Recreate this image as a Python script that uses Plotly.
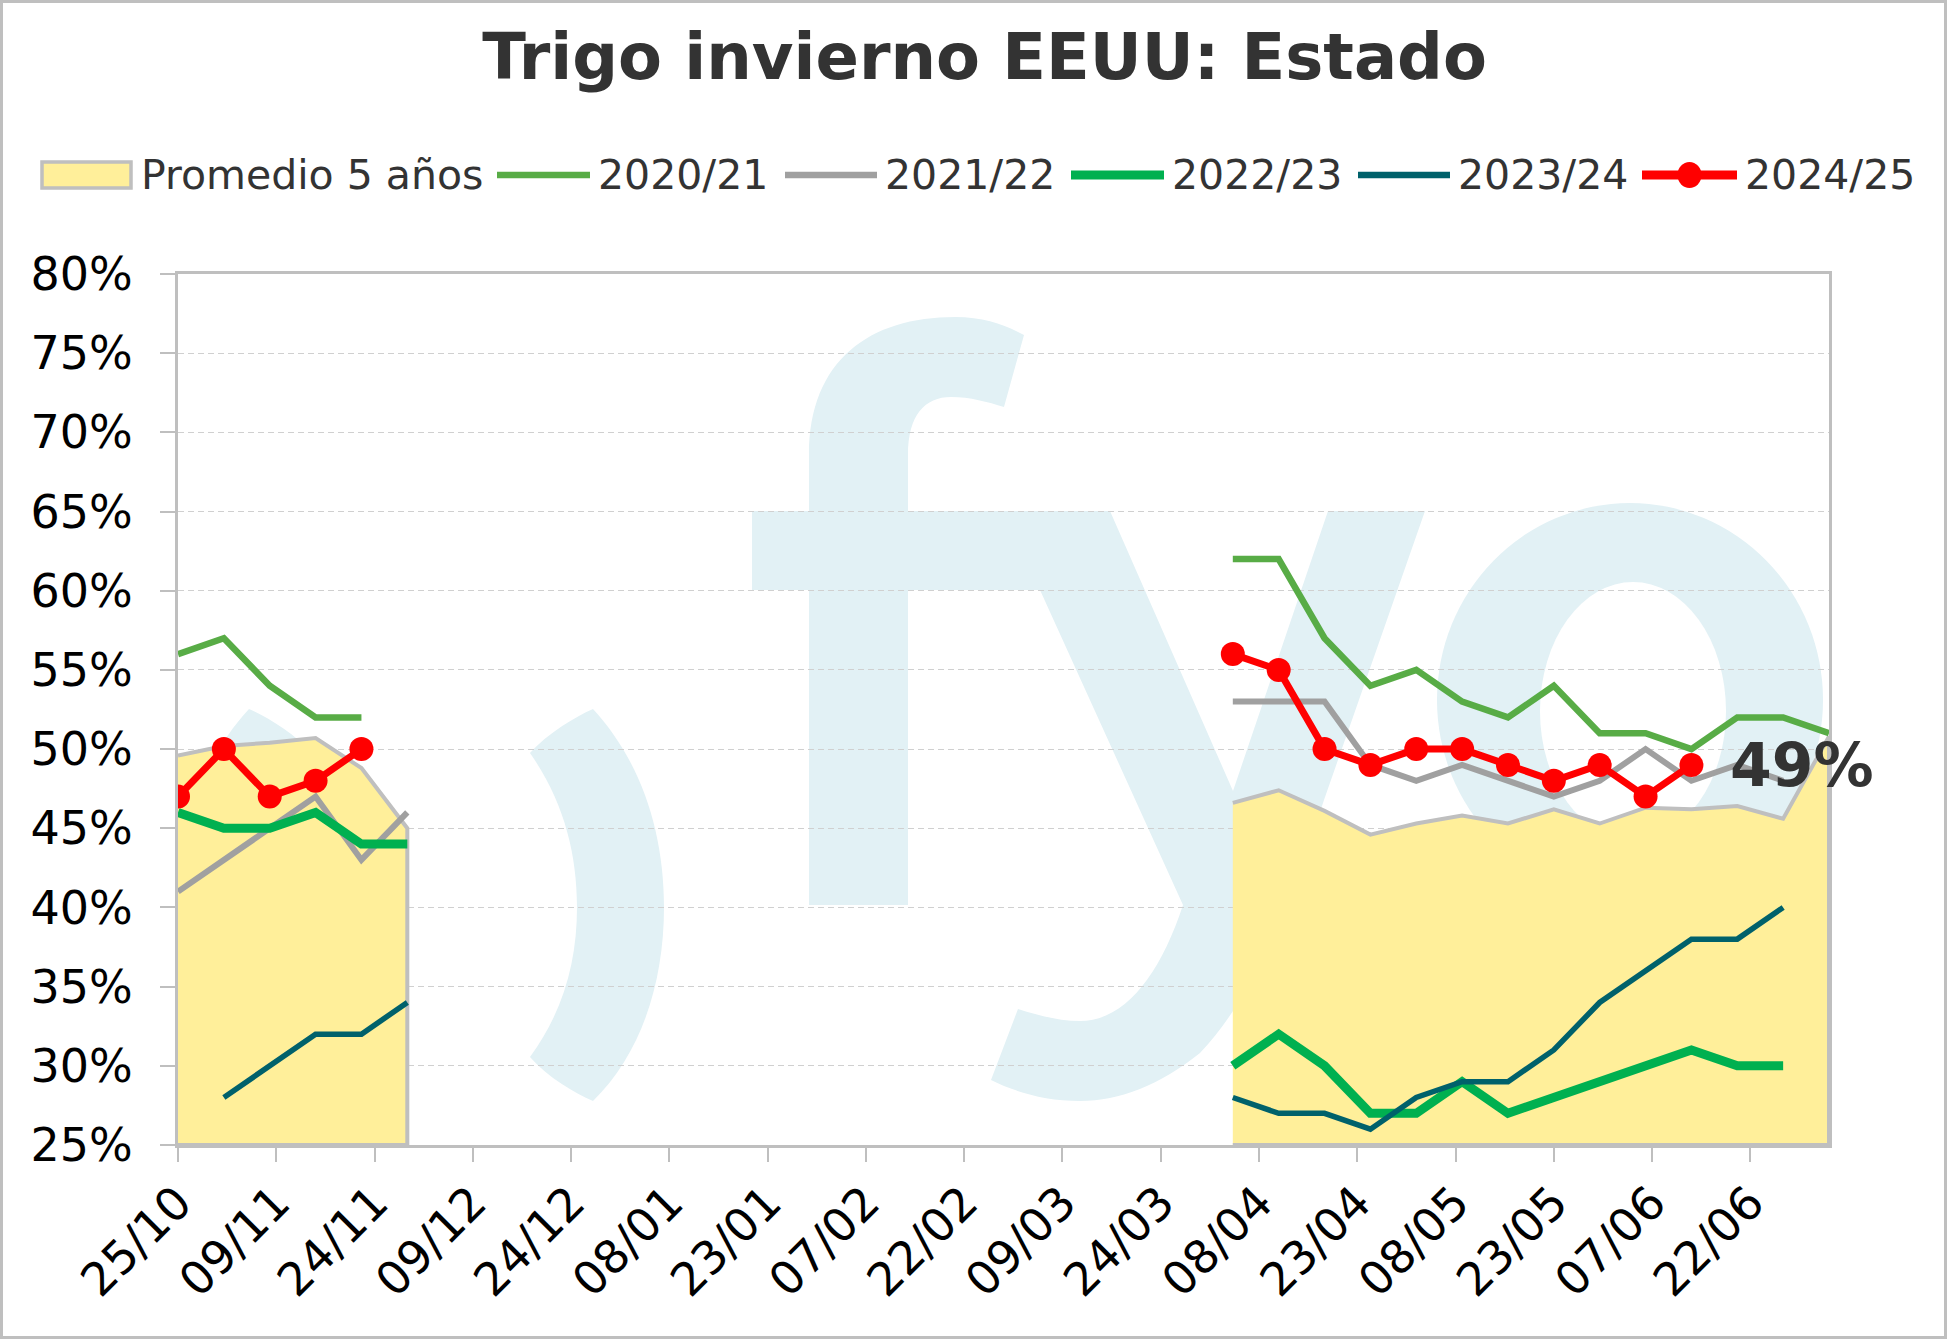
import plotly.graph_objects as go

# ---------------- data ----------------
fechas_otono = ["2024-10-25", "2024-11-01", "2024-11-08", "2024-11-15", "2024-11-22", "2024-11-29"]
fechas_primavera = ["2025-04-04", "2025-04-11", "2025-04-18", "2025-04-25", "2025-05-02",
                    "2025-05-09", "2025-05-16", "2025-05-23", "2025-05-30", "2025-06-06",
                    "2025-06-13", "2025-06-20", "2025-06-27", "2025-07-04"]

promedio_otono = [49.6, 50.2, 50.4, 50.7, 48.8, 45.0]
promedio_primavera = [46.6, 47.4, 46.1, 44.6, 45.3, 45.8, 45.3, 46.2, 45.3, 46.3, 46.2, 46.4, 45.6, 50.8]

c2020_otono = [56, 57, 54, 52, 52, None]
c2020_primavera = [62, 62, 57, 54, 55, 53, 52, 54, 51, 51, 50, 52, 52, 51]
c2021_otono = [41, 43, 45, 47, 43, 46]
c2021_primavera = [53, 53, 53, 49, 48, 49, 48, 47, 48, 50, 48, 49, 48, None]
c2022_otono = [46, 45, 45, 46, 44, 44]
c2022_primavera = [30, 32, 30, 27, 27, 29, 27, 28, 29, 30, 31, 30, 30, None]
c2023_otono = [None, 28, 30, 32, 32, 34]
c2023_primavera = [28, 27, 27, 26, 28, 29, 29, 31, 34, 36, 38, 38, 40, None]
c2024_otono = [47, 50, 47, 48, 50, None]
c2024_primavera = [56, 55, 50, 49, 50, 50, 49, 48, 49, 47, 49, None, None, None]

titulo = "Trigo invierno EEUU: Estado"
nombre_promedio = "Promedio 5 años"
Y_MIN, Y_MAX, Y_STEP = 25, 80, 5
X_START, X_END = "2024-10-25", "2025-07-04"
TICK_DAYS = 15

# ---------------- style ----------------
W, H = 1947, 1339
ML, MR, MT, MB = 178, 118, 274, 194
PW, PH = W - ML - MR, H - MT - MB
FONT = "DejaVu Sans"
YELLOW = "#FFEF9A"
AVG_LINE = "#BFBFBF"
WM = "#E2F1F5"

series = [
    ("2020/21", "#58AC46", 6.5, c2020_otono, c2020_primavera, False),
    ("2021/22", "#A0A0A0", 6, c2021_otono, c2021_primavera, False),
    ("2022/23", "#00B050", 9, c2022_otono, c2022_primavera, False),
    ("2023/24", "#00616B", 5.5, c2023_otono, c2023_primavera, False),
    ("2024/25", "#FF0000", 7, c2024_otono, c2024_primavera, True),
]


def px(X):
    return (X - ML) / PW


def py(Y):
    return (H - MB - Y) / PH


def pt(p):
    return f"{px(p[0]):.5f},{py(p[1]):.5f}"


def poly_path(pts):
    return "M " + " L ".join(pt(p) for p in pts) + " Z"


def bez_path(start, segs):
    """segs: list of ('L', p) or ('C', c1, c2, p)"""
    s = "M " + pt(start)
    for sg in segs:
        if sg[0] == "L":
            s += " L " + pt(sg[1])
        else:
            s += " C " + " ".join(pt(q) for q in sg[1:])
    return s + " Z"


fig = go.Figure()

# 5-year average area (two seasonal blocks)
ax, ay = [], []
for d, v in ((fechas_otono, promedio_otono), (fechas_primavera, promedio_primavera)):
    if ax:
        ax.append(None)
        ay.append(None)
    ax += d + [d[-1], d[0]]
    ay += v + [Y_MIN, Y_MIN]
fig.add_trace(go.Scatter(x=ax, y=ay, fill="toself", fillcolor=YELLOW, mode="lines",
                         line=dict(color=AVG_LINE, width=4), name=nombre_promedio,
                         showlegend=False, hoverinfo="skip"))

for name, color, width, a, b, mk in series:
    for d, v in ((fechas_otono, a), (fechas_primavera, b)):
        fig.add_trace(go.Scatter(
            x=d, y=v, mode="lines+markers" if mk else "lines",
            line=dict(color=color, width=width),
            marker=dict(size=24, color=color) if mk else None,
            name=name, legendgroup=name, showlegend=False))

# last value label
last_i = max(i for i, v in enumerate(c2024_primavera) if v is not None)
fig.add_annotation(x=fechas_primavera[last_i], y=c2024_primavera[last_i],
                   text=f"{c2024_primavera[last_i]}%", showarrow=False,
                   xanchor="left", yanchor="middle", xshift=37,
                   font=dict(family=FONT, size=60, color="#333333", weight="bold"))

shapes = []
# ---- watermark "(fyo)" ----
cres = dict(start=(593, 709), segs=[
    ("C", (640, 760), (664, 830), (664, 907)),
    ("C", (664, 985), (640, 1055), (593, 1101)),
    ("C", (575, 1093), (548, 1078), (530, 1057)),
    ("C", (563, 1012), (577, 962), (577, 907)),
    ("C", (577, 852), (563, 800), (530, 753)),
    ("C", (548, 733), (575, 717), (593, 709)),
])


def mirror(p, c=842):
    return (c - p[0], p[1])


cres_l = dict(start=mirror(cres["start"]),
              segs=[(s[0],) + tuple(mirror(q) for q in s[1:]) for s in cres["segs"]])
f_hook = dict(start=(809, 905), segs=[
    ("L", (809, 455)),
    ("C", (809, 360), (870, 317), (955, 317)),
    ("C", (985, 317), (1005, 325), (1024, 335)),
    ("L", (1004, 407)),
    ("C", (988, 402), (970, 397), (951, 397)),
    ("C", (925, 397), (908, 415), (908, 455)),
    ("L", (908, 905)),
])
y_shape = dict(start=(1004, 511), segs=[
    ("L", (1110, 511)), ("L", (1233, 791)), ("L", (1328, 511)), ("L", (1425, 511)),
    ("L", (1324, 800)),
    ("C", (1285, 920), (1250, 1000), (1200, 1053)),
    ("C", (1160, 1085), (1120, 1101), (1080, 1101)),
    ("C", (1045, 1101), (1015, 1092), (991, 1080)),
    ("L", (1018, 1009)),
    ("C", (1040, 1016), (1060, 1021), (1080, 1021)),
    ("C", (1125, 1021), (1160, 975), (1183, 905)),
    ("L", (1040, 590)),
])
for sh in (cres, cres_l, f_hook, y_shape):
    shapes.append(dict(type="path", path=bez_path(sh["start"], sh["segs"]), xref="paper",
                       yref="paper", fillcolor=WM, line=dict(width=0), layer="below"))
shapes.append(dict(type="path", path=poly_path([(752, 511), (1045, 511), (1045, 590), (752, 590)]),
                   xref="paper", yref="paper", fillcolor=WM, line=dict(width=0), layer="below"))
shapes.append(dict(type="circle", xref="paper", yref="paper", x0=px(1437), x1=px(1823),
                   y0=py(897), y1=py(503), fillcolor=WM, line=dict(width=0), layer="below"))
shapes.append(dict(type="circle", xref="paper", yref="paper", x0=px(1540), x1=px(1726),
                   y0=py(840), y1=py(582), fillcolor="white", line=dict(width=0), layer="below"))

# outer border
shapes.append(dict(type="rect", xref="paper", yref="paper", x0=px(1.5), x1=px(W - 1.5),
                   y0=py(H - 1.5), y1=py(1.5), line=dict(color="#BFBFBF", width=3),
                   fillcolor="rgba(0,0,0,0)", layer="above"))

# ---- legend (drawn manually to match the box-shaped area key) ----
LY = 175
shapes.append(dict(type="rect", xref="paper", yref="paper", x0=px(42), x1=px(131),
                   y0=py(188), y1=py(162), fillcolor=YELLOW,
                   line=dict(color=AVG_LINE, width=3.5), layer="above"))
annotations = [dict(x=px(139), y=py(LY), xref="paper", yref="paper", text=nombre_promedio,
                    showarrow=False, xanchor="left", yanchor="middle",
                    font=dict(family=FONT, size=41, color="#333333"))]
leg_pos = [(497, 590, 596), (785, 877, 883), (1071, 1164, 1170), (1358, 1450, 1456), (1642, 1737, 1743)]
for (name, color, width, a, b, mk), (x0, x1, xt) in zip(series, leg_pos):
    shapes.append(dict(type="line", xref="paper", yref="paper", x0=px(x0), x1=px(x1),
                       y0=py(LY), y1=py(LY), line=dict(color=color, width=max(width, 6.5) + (2 if mk else 0)),
                       layer="above"))
    if mk:
        cx = (x0 + x1) / 2
        shapes.append(dict(type="circle", xref="paper", yref="paper", x0=px(cx - 12), x1=px(cx + 12),
                           y0=py(LY + 13), y1=py(LY - 13), fillcolor=color,
                           line=dict(width=0), layer="above"))
    annotations.append(dict(x=px(xt), y=py(LY), xref="paper", yref="paper", text=name,
                            showarrow=False, xanchor="left", yanchor="middle",
                            font=dict(family=FONT, size=41, color="#333333")))

for an in annotations:
    fig.add_annotation(**an)

fig.update_layout(
    width=W, height=H,
    margin=dict(l=ML, r=MR, t=MT, b=MB, autoexpand=False),
    paper_bgcolor="white", plot_bgcolor="white",
    showlegend=False,
    shapes=shapes,
    title=dict(text=f"<b>{titulo}</b>", x=(W / 2 + 11) / W, xref="container", xanchor="center",
               y=1 - 57 / H, yref="container", yanchor="middle",
               font=dict(family=FONT, size=64, color="#333333")),
    font=dict(family=FONT, color="#000000"),
)
fig.update_xaxes(
    type="date", range=[X_START, X_END], tickmode="linear", tick0=X_START,
    dtick=TICK_DAYS * 86400000, tickformat="%d/%m", tickangle=-45,
    tickfont=dict(family=FONT, size=46, color="#000000"),
    showgrid=False, showline=True, linecolor="#BFBFBF", linewidth=3, mirror=True,
    ticks="outside", ticklen=14, tickcolor="#BFBFBF", tickwidth=1.5,
    ticklabelstandoff=-5,
)
fig.update_yaxes(
    range=[Y_MIN, Y_MAX], tickmode="linear", tick0=Y_MIN, dtick=Y_STEP, ticksuffix="%",
    tickfont=dict(family=FONT, size=46, color="#000000"),
    showgrid=True, gridcolor="#D0D0D0", gridwidth=1, griddash="6px,4px",
    showline=True, linecolor="#BFBFBF", linewidth=3, mirror=True,
    ticks="outside", ticklen=15, tickcolor="#BFBFBF", tickwidth=1.5,
    ticklabelstandoff=18, zeroline=False,
)

fig.write_html("out.html", config={"displayModeBar": False},
               post_script="document.body.style.margin='0';")
